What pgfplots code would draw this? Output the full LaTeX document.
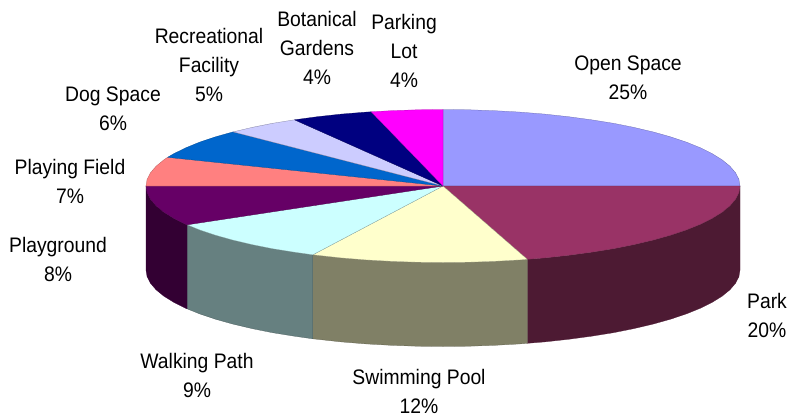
\documentclass[border=0pt]{standalone}
\usepackage{pgfplots}
\pgfplotsset{compat=1.18}
\usepackage{fontspec}
\setmainfont[FakeStretch=0.92]{Liberation Sans}
\definecolor{cOpen}{HTML}{9999FF}
\definecolor{cPark}{HTML}{993366}
\definecolor{cSwim}{HTML}{FFFFCC}
\definecolor{cWalk}{HTML}{CCFFFF}
\definecolor{cGround}{HTML}{660066}
\definecolor{cField}{HTML}{FF8080}
\definecolor{cDog}{HTML}{0066CC}
\definecolor{cRec}{HTML}{CCCCFF}
\definecolor{cBot}{HTML}{000080}
\definecolor{cLot}{HTML}{FF00FF}
\definecolor{wPark}{HTML}{4D1A33}
\definecolor{wSwim}{HTML}{808066}
\definecolor{wWalk}{HTML}{668080}
\definecolor{wGround}{HTML}{330033}
\tikzset{lbl/.style={font=\fontsize{21}{29}\selectfont, align=center, text=black, inner sep=0pt}}
\begin{document}
\begin{tikzpicture}
\begin{axis}[
  scale only axis, width=789pt, height=415pt,
  xmin=0, xmax=789, ymin=0, ymax=415, y dir=reverse,
  axis lines=none, clip=false,
  every axis plot/.append style={line width=0.25pt, line join=round}
]
\path (axis cs:0,0) rectangle (axis cs:789,415);
% side walls
\addplot[fill=wPark,draw=wPark] coordinates {(740,186)(738.9,192.7)(735.5,199.3)(729.9,205.8)(722.1,212.2)(712.2,218.3)(700.2,224.3)(686.3,229.9)(670.5,235.2)(653.0,240.1)(633.9,244.6)(613.4,248.7)(591.5,252.2)(568.5,255.3)(544.6,257.9)(527.3,259.3)
(527.3,343.3)(544.6,341.9)(568.5,339.3)(591.5,336.2)(613.4,332.7)(633.9,328.6)(653.0,324.1)(670.5,319.2)(686.3,313.9)(700.2,308.3)(712.2,302.3)(722.1,296.2)(729.9,289.8)(735.5,283.3)(738.9,276.7)(740,270)} -- cycle;
\addplot[fill=wSwim,draw=wSwim!70!black] coordinates {(527.3,259.3)(519.9,259.9)(494.6,261.3)(468.9,262.2)(443,262.5)(417.1,262.2)(391.4,261.3)(366.1,259.9)(341.4,257.9)(317.5,255.3)(312.8,254.8)
(312.8,338.8)(317.5,339.3)(341.4,341.9)(366.1,343.9)(391.4,345.3)(417.1,346.2)(443,346.5)(468.9,346.2)(494.6,345.3)(519.9,343.9)(527.3,343.3)} -- cycle;
\addplot[fill=wWalk,draw=wWalk!70!black] coordinates {(312.8,254.8)(294.5,252.2)(272.6,248.7)(252.1,244.6)(233.0,240.1)(215.5,235.2)(199.7,229.9)(187.1,224.8)
(187.1,308.8)(199.7,313.9)(215.5,319.2)(233.0,324.1)(252.1,328.6)(272.6,332.7)(294.5,336.2)(312.8,338.8)} -- cycle;
\addplot[fill=wGround,draw=wGround] coordinates {(187.1,224.8)(185.8,224.3)(173.8,218.3)(163.9,212.2)(156.1,205.8)(150.5,199.3)(147.1,192.7)(146,186)
(146,270)(147.1,276.7)(150.5,283.3)(156.1,289.8)(163.9,296.2)(173.8,302.3)(185.8,308.3)(187.1,308.8)} -- cycle;
% top faces
\addplot[fill=cOpen,draw=cOpen!65!black] coordinates {(443,186)(443,109.5)(468.9,109.8)(494.6,110.7)(519.9,112.1)(544.6,114.1)(568.5,116.7)(591.5,119.8)(613.4,123.3)(633.9,127.4)(653.0,131.9)(670.5,136.8)(686.3,142.1)(700.2,147.7)(712.2,153.7)(722.1,159.8)(729.9,166.2)(735.5,172.7)(738.9,179.3)(740,186)} -- cycle;
\addplot[fill=cPark,draw=cPark!80!black] coordinates {(443,186)(740,186)(738.9,192.7)(735.5,199.3)(729.9,205.8)(722.1,212.2)(712.2,218.3)(700.2,224.3)(686.3,229.9)(670.5,235.2)(653.0,240.1)(633.9,244.6)(613.4,248.7)(591.5,252.2)(568.5,255.3)(544.6,257.9)(527.3,259.3)} -- cycle;
\addplot[fill=cSwim,draw=cSwim!60!black] coordinates {(443,186)(527.3,259.3)(519.9,259.9)(494.6,261.3)(468.9,262.2)(443,262.5)(417.1,262.2)(391.4,261.3)(366.1,259.9)(341.4,257.9)(317.5,255.3)(312.8,254.8)} -- cycle;
\addplot[fill=cWalk,draw=cWalk!60!black] coordinates {(443,186)(312.8,254.8)(294.5,252.2)(272.6,248.7)(252.1,244.6)(233.0,240.1)(215.5,235.2)(199.7,229.9)(187.1,224.8)} -- cycle;
\addplot[fill=cGround,draw=cGround!80!black] coordinates {(443,186)(187.1,224.8)(185.8,224.3)(173.8,218.3)(163.9,212.2)(156.1,205.8)(150.5,199.3)(147.1,192.7)(146,186)} -- cycle;
\addplot[fill=cField,draw=cField!70!black] coordinates {(443,186)(146,186)(147.1,179.3)(150.5,172.7)(156.1,166.2)(163.9,159.8)(167.6,157.3)} -- cycle;
\addplot[fill=cDog,draw=cDog!70!black] coordinates {(443,186)(167.6,157.3)(173.8,153.7)(185.8,147.8)(199.7,142.1)(215.5,136.8)(233.0,131.9)} -- cycle;
\addplot[fill=cRec,draw=cRec!60!black] coordinates {(443,186)(233.0,131.9)(252.1,127.4)(272.6,123.3)(294.5,119.8)} -- cycle;
\addplot[fill=cBot,draw=cBot!70!black] coordinates {(443,186)(294.5,119.8)(317.5,116.7)(341.4,114.1)(366.1,112.1)(371.2,111.8)} -- cycle;
\addplot[fill=cLot,draw=cLot!70!black] coordinates {(443,186)(371.2,111.8)(391.4,110.7)(417.1,109.8)(443,109.5)} -- cycle;
% labels
\node[lbl] at (axis cs:628,78) {Open Space\\25\%};
\node[lbl] at (axis cs:767,315) {Park\\20\%};
\node[lbl] at (axis cs:419,391) {Swimming Pool\\12\%};
\node[lbl] at (axis cs:197,375.5) {Walking Path\\9\%};
\node[lbl] at (axis cs:58,259.5) {Playground\\8\%};
\node[lbl] at (axis cs:70,181) {Playing Field\\7\%};
\node[lbl] at (axis cs:113,109) {Dog Space\\6\%};
\node[lbl] at (axis cs:209,65) {Recreational\\Facility\\5\%};
\node[lbl] at (axis cs:317,47.5) {Botanical\\Gardens\\4\%};
\node[lbl] at (axis cs:404,50.5) {Parking\\Lot\\4\%};
\end{axis}
\end{tikzpicture}
\end{document}
